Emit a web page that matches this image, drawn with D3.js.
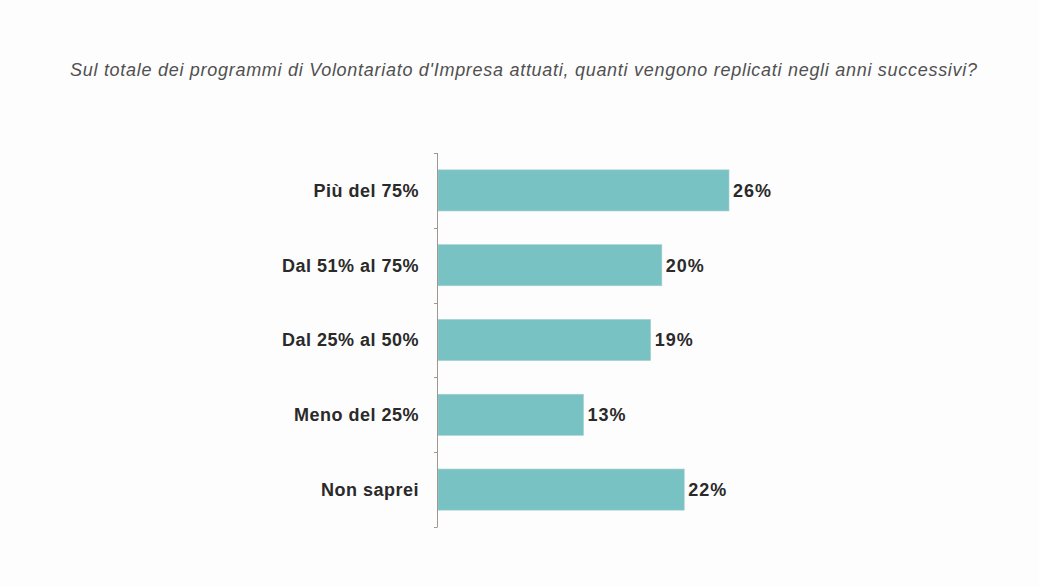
<!DOCTYPE html>
<html><head><meta charset="utf-8">
<script src="https://cdn.jsdelivr.net/npm/d3@7"></script>
<style>body{margin:0;background:#fdfdfd;}svg{display:block;}</style>
</head><body>
<script>
const categories = ["Più del 75%", "Dal 51% al 75%", "Dal 25% al 50%", "Meno del 25%", "Non saprei"];
const values = [26, 20, 19, 13, 22];
const valueLabels = ["26%", "20%", "19%", "13%", "22%"];
const title = "Sul totale dei programmi di Volontariato d'Impresa attuati, quanti vengono replicati negli anni successivi?";

const W = 1039, H = 586;
const svg = d3.select("body").append("svg").attr("width", W).attr("height", H);
svg.append("rect").attr("width", W).attr("height", H).attr("fill", "#fdfdfd");

const x = d3.scaleLinear().domain([0, 26]).range([438, 729]);
const y = d3.scaleBand().domain(categories).range([153, 527]).paddingInner(0.45).paddingOuter(0.225);

svg.append("text").attr("x", 70).attr("y", 76)
  .attr("font-family", "Liberation Sans, Arial, sans-serif").attr("font-style", "italic")
  .attr("font-size", 18).attr("fill", "#505050")
  .attr("textLength", 907).attr("lengthAdjust", "spacing").text(title);

svg.selectAll("rect.bar").data(values).join("rect").attr("class", "bar")
  .attr("x", x(0)).attr("y", (d, i) => y(categories[i]))
  .attr("width", d => x(d) - x(0)).attr("height", y.bandwidth())
  .attr("fill", "#78c2c4").attr("stroke", "#a8cfd0").attr("stroke-width", 0.6);

// axis line and ticks
const ax = svg.append("g").attr("stroke", "#a09890").attr("stroke-width", 1);
ax.append("line").attr("x1", 437.5).attr("x2", 437.5).attr("y1", 153).attr("y2", 527);
const tickYs = d3.range(categories.length + 1).map(i => 153 + i * (374 / categories.length));
ax.selectAll("line.t").data(tickYs).join("line").attr("class", "t")
  .attr("x1", 434).attr("x2", 437.5).attr("y1", d => Math.round(d) + 0.5).attr("y2", d => Math.round(d) + 0.5);

svg.selectAll("text.cat").data(categories).join("text").attr("class", "cat")
  .attr("x", 419).attr("y", d => y(d) + y.bandwidth() / 2).attr("dy", "0.35em")
  .attr("text-anchor", "end").attr("font-family", "Liberation Sans, Arial, sans-serif")
  .attr("font-weight", "bold").attr("font-size", 18).attr("letter-spacing", 0.5)
  .attr("fill", "#2a2a2a").text(d => d);

svg.selectAll("text.val").data(values).join("text").attr("class", "val")
  .attr("x", d => x(d) + 4).attr("y", (d, i) => y(categories[i]) + y.bandwidth() / 2).attr("dy", "0.35em")
  .attr("font-family", "Liberation Sans, Arial, sans-serif")
  .attr("font-weight", "bold").attr("font-size", 18).attr("letter-spacing", 1)
  .attr("fill", "#2a2a2a").text((d, i) => valueLabels[i]);
</script>
</body></html>
